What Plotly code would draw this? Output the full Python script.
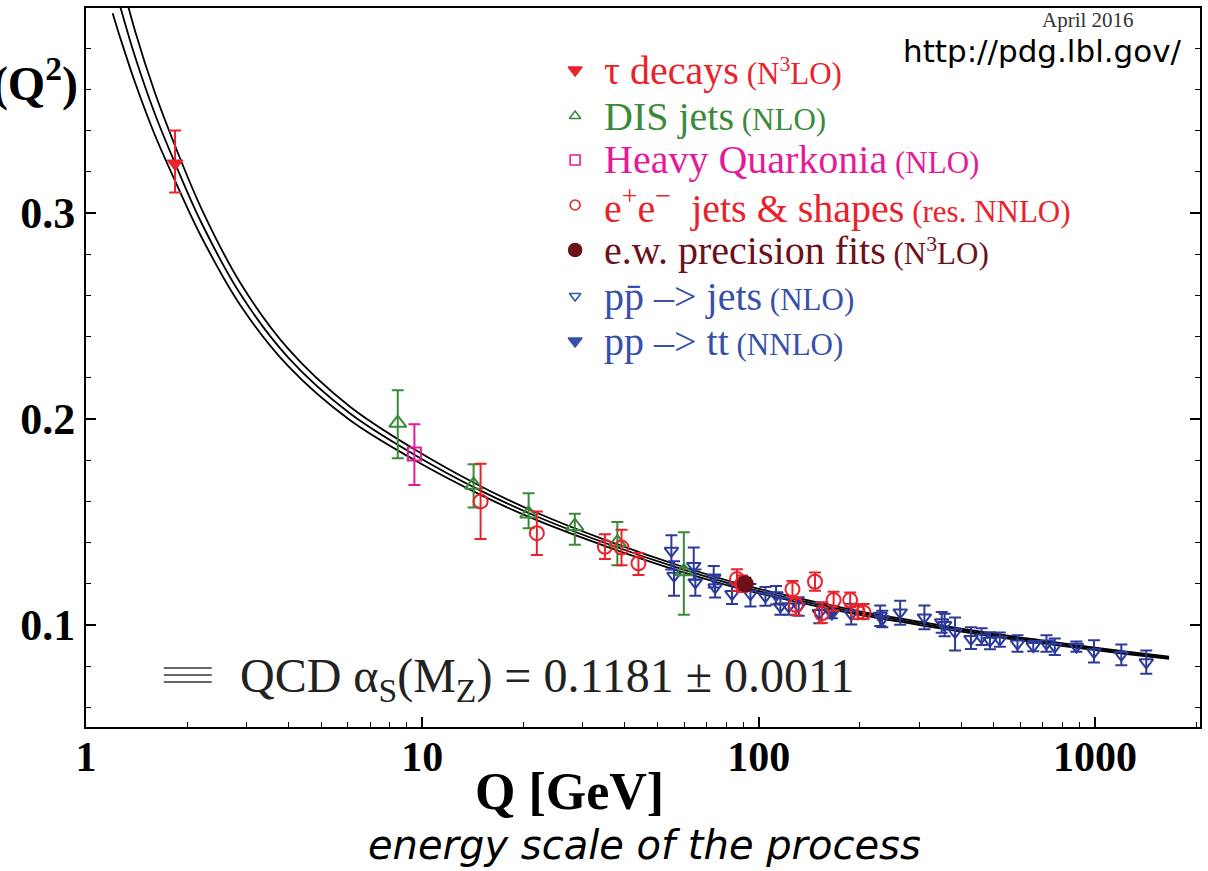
import plotly.graph_objects as go

# ---------------- data ----------------
# QCD running curve (central value and half-width of the band)
curve_q = [1.2, 1.27, 1.4, 1.6, 1.84, 2.2, 2.88, 4.0, 6.07, 9.47, 14.8, 21.8, 35.1, 59.1,
           91.2, 150, 200, 300, 500, 700, 1000, 1300, 1660]
curve_alpha = [0.414, 0.399, 0.3757, 0.3484, 0.3241, 0.2955, 0.2605, 0.2297, 0.2029, 0.1827,
               0.1655, 0.1528, 0.1397, 0.1271, 0.1181, 0.1100, 0.10575, 0.1008, 0.0951,
               0.0918, 0.0884, 0.0861, 0.0841]
curve_halfwidth = [0.017, 0.015, 0.0125, 0.0103, 0.0085, 0.0069, 0.0054, 0.0042, 0.0033,
                   0.0026, 0.0021, 0.0018, 0.0015, 0.0013, 0.0011, 0.00095, 0.00088, 0.0008,
                   0.0007, 0.00067, 0.00062, 0.0006, 0.00057]

tau_q = [1.84]
tau_a = [0.324]
tau_up = [0.016]
tau_dn = [0.014]

dis_q = [8.45, 14.2, 20.7, 28.4, 38.0, 59.9]
dis_a = [0.198, 0.168, 0.154, 0.148, 0.140, 0.126]
dis_up = [0.016, 0.010, 0.010, 0.006, 0.010, 0.019]
dis_dn = [0.017, 0.011, 0.007, 0.009, 0.011, 0.021]

hq_q = [9.47]
hq_a = [0.183]
hq_up = [0.0145]
hq_dn = [0.015]

ee_q = [14.9, 21.9, 34.9, 39.1, 43.9, 86.2, 89.2, 126, 129, 147, 154, 167, 187, 197, 205]
ee_a = [0.160, 0.1446, 0.138, 0.1376, 0.130, 0.1223, 0.120, 0.1174, 0.1097, 0.121, 0.1057,
        0.1121, 0.1121, 0.1061, 0.1061]
ee_up = [0.0183, 0.0105, 0.006, 0.0086, 0.005, 0.0048, 0.004, 0.004, 0.0033, 0.0045, 0.0054,
         0.004, 0.0037, 0.0041, 0.0041]
ee_dn = [0.0183, 0.0106, 0.006, 0.0086, 0.0057, 0.0057, 0.004, 0.0038, 0.0049, 0.0044, 0.0047,
         0.0052, 0.0035, 0.0032, 0.0032]

ew_q = [91.2]
ew_a = [0.1200]
ew_err = [0.003]

ppjet_q = [55.0, 56.0, 64.1, 64.8, 73.5, 74.2, 83.3, 94.5, 104.7, 112.6, 116, 122.8, 131.5,
           151.4, 188.4, 229.7, 233, 263.4, 310.9, 350, 357, 383.5, 427.7, 459.8, 487, 521,
           588, 655, 717, 759, 880, 993, 1197, 1420]
ppjet_a = [0.136, 0.1239, 0.1287, 0.1207, 0.1231, 0.1183, 0.1150, 0.1150, 0.1139, 0.1145,
           0.1090, 0.1090, 0.1090, 0.1058, 0.1053, 0.1045, 0.1029, 0.1061, 0.1037, 0.1013,
           0.1000, 0.0965, 0.0932, 0.0940, 0.0924, 0.0929, 0.0910, 0.0898, 0.0910, 0.0895,
           0.0895, 0.0868, 0.0855, 0.0819]
ppjet_up = [0.0076, 0.007, 0.0089, 0.0063, 0.0056, 0.0057, 0.0049, 0.0049, 0.0045, 0.0045,
            0.004, 0.004, 0.0045, 0.005, 0.005, 0.005, 0.004, 0.0057, 0.0058, 0.005, 0.0055,
            0.0072, 0.0057, 0.0044, 0.0041, 0.0035, 0.0040, 0.0025, 0.0040, 0.0040, 0.0025,
            0.0058, 0.0050, 0.0057]
ppjet_dn = [0.009, 0.0097, 0.0067, 0.0065, 0.0049, 0.0049, 0.0048, 0.006, 0.0045, 0.0045,
            0.004, 0.004, 0.0045, 0.005, 0.005, 0.005, 0.004, 0.006, 0.0058, 0.005, 0.0055,
            0.0089, 0.0048, 0.0037, 0.0041, 0.0035, 0.0040, 0.0025, 0.0040, 0.0040, 0.0025,
            0.0050, 0.0050, 0.0055]

pptt_q = [165]
pptt_a = [0.1053]
pptt_err = [0.002]

x_tickvals = [1, 10, 100, 1000]
x_ticktext = ["1", "10", "100", "1000"]
x_minor = [2, 3, 4, 5, 6, 7, 8, 9, 20, 30, 40, 50, 60, 70, 80, 90,
           200, 300, 400, 500, 600, 700, 800, 900, 2000]
y_tickvals = [0.1, 0.2, 0.3]
y_ticktext = ["0.1", "0.2", "0.3"]
y_minor = [0.06, 0.08, 0.12, 0.14, 0.16, 0.18, 0.22, 0.24, 0.26, 0.28, 0.32, 0.34, 0.36, 0.38]

legend_labels = [
    ("τ decays", " (N<sup>3</sup>LO)"),
    ("DIS jets", " (NLO)"),
    ("Heavy Quarkonia", " (NLO)"),
    ("e<sup>+</sup>e<sup>−</sup>  jets &amp; shapes", " (res. NNLO)"),
    ("e.w. precision fits", " (N<sup>3</sup>LO)"),
    ("pp̄ –> jets", " (NLO)"),
    ("pp –> tt", " (NNLO)"),
]

# ---------------- styles ----------------
RED = "#e8232c"
GREEN = "#3b8a3b"
MAGENTA = "#e31b9b"
DARKRED = "#6d1119"
BLUE = "#2c3b9a"
LBLUE = "#3850aa"
SERIF = "Liberation Serif"

legend_colors = [RED, GREEN, MAGENTA, RED, DARKRED, LBLUE, LBLUE]
legend_symbols = ["triangle-down", "triangle-up-open", "square-open", "circle-open",
                  "circle", "triangle-down-open", "triangle-down"]
legend_msizes = [12, 10, 10, 10, 13, 10, 12]
legend_rows_px = [70, 116, 160, 205, 250, 296, 341]

W, H = 1208, 871
ML, MR, MT, MB = 86, 6, 8, 144
PW, PH = W - ML - MR, H - MT - MB


def px_x(x):
    return (x - ML) / PW


def px_y(y):
    return (H - MB - y) / PH


fig = go.Figure()

# three curves of the QCD band
for s in (-1, 0, 1):
    fig.add_trace(go.Scatter(
        x=curve_q, y=[a + s * d for a, d in zip(curve_alpha, curve_halfwidth)],
        mode="lines", line=dict(color="black", width=1.8, shape="spline", smoothing=1.0),
        hoverinfo="skip", showlegend=False))


def add_points(q, a, up, dn, color, symbol, size, lw=2):
    fig.add_trace(go.Scatter(
        x=q, y=a, mode="markers",
        marker=dict(symbol=symbol, size=size, color=color,
                    line=dict(color=color, width=lw)),
        error_y=dict(type="data", symmetric=False, array=up, arrayminus=dn,
                     color=color, thickness=2, width=6),
        showlegend=False))


add_points(ppjet_q, ppjet_a, ppjet_up, ppjet_dn, BLUE, "triangle-down-open", 12)
add_points(pptt_q, pptt_a, pptt_err, pptt_err, BLUE, "triangle-down", 13, 1)
add_points(dis_q, dis_a, dis_up, dis_dn, GREEN, "triangle-up-open", 15)
add_points(hq_q, hq_a, hq_up, hq_dn, MAGENTA, "square-open", 13)
add_points(ee_q, ee_a, ee_up, ee_dn, RED, "circle-open", 14)
add_points(ew_q, ew_a, ew_err, ew_err, DARKRED, "circle", 16, 1)
add_points(tau_q, tau_a, tau_up, tau_dn, RED, "triangle-down", 14, 1)

# legend markers on an overlay axis covering the plot area
legend_x = px_x(576)
for sym, col, ms, ypx in zip(legend_symbols, legend_colors, legend_msizes, legend_rows_px):
    fig.add_trace(go.Scatter(
        x=[legend_x], y=[px_y(ypx)], xaxis="x2", yaxis="y2", mode="markers",
        marker=dict(symbol=sym, size=ms, color=col, line=dict(color=col, width=1.6)),
        hoverinfo="skip", showlegend=False))

annotations = []
for (main, sub), col, ypx in zip(legend_labels, legend_colors, legend_rows_px):
    annotations.append(dict(
        x=px_x(603), y=px_y(ypx), xref="paper", yref="paper", xanchor="left",
        yanchor="middle", showarrow=False,
        text=f"{main}<span style='font-size:31px'>{sub}</span>",
        font=dict(family=SERIF, size=40, color=col)))

annotations += [
    dict(x=px_x(80), y=px_y(84), xref="paper", yref="paper", xanchor="right",
         yanchor="middle", showarrow=False, text="α<sub>s</sub>(Q<sup>2</sup>)",
         font=dict(family=SERIF, size=48, color="black", weight="bold")),
    dict(x=px_x(570), y=px_y(791), xref="paper", yref="paper", xanchor="center",
         yanchor="middle", showarrow=False, text="Q [GeV]",
         font=dict(family=SERIF, size=52, color="black", weight="bold")),
    dict(x=px_x(646), y=px_y(845), xref="paper", yref="paper", xanchor="center",
         yanchor="middle", showarrow=False, text="energy scale of the process",
         font=dict(family="DejaVu Sans", size=40, color="black", style="italic")),
    dict(x=px_x(1090), y=px_y(20), xref="paper", yref="paper", xanchor="center",
         yanchor="middle", showarrow=False, text="April 2016",
         font=dict(family=SERIF, size=21, color="#333333")),
    dict(x=px_x(1186), y=px_y(51), xref="paper", yref="paper", xanchor="right",
         yanchor="middle", showarrow=False, text="http://pdg.lbl.gov/",
         font=dict(family="DejaVu Sans", size=31, color="black")),
    dict(x=px_x(238), y=px_y(679), xref="paper", yref="paper", xanchor="left",
         yanchor="middle", showarrow=False,
         text="QCD α<sub>S</sub>(M<sub>Z</sub>) = 0.1181 ± 0.0011",
         font=dict(family=SERIF, size=48, color="#222222")),
]

shapes = []
for ypx in (668, 675, 682):
    shapes.append(dict(type="line", xref="paper", yref="paper",
                       x0=px_x(164), x1=px_x(212), y0=px_y(ypx), y1=px_y(ypx),
                       line=dict(color="#333333", width=1.5)))

fig.update_layout(
    width=W, height=H,
    margin=dict(l=ML, r=MR, t=MT, b=MB, pad=0),
    paper_bgcolor="white", plot_bgcolor="white",
    showlegend=False,
    annotations=annotations,
    shapes=shapes,
    xaxis=dict(
        type="log", range=[0, 3.312], showgrid=False, zeroline=False,
        showline=True, linecolor="black", linewidth=2, mirror=True,
        ticks="inside", ticklen=10, tickwidth=1.5, tickcolor="black",
        tickvals=x_tickvals, ticktext=x_ticktext,
        tickfont=dict(family=SERIF, size=42, color="black", weight="bold"),
        ticklabelstandoff=-8,
        minor=dict(ticks="inside", ticklen=5, tickwidth=1.2, tickcolor="black",
                   tickvals=x_minor, showgrid=False),
    ),
    yaxis=dict(
        range=[0.0505, 0.3995], showgrid=False, zeroline=False,
        showline=True, linecolor="black", linewidth=2, mirror="ticks",
        ticks="inside", ticklen=10, tickwidth=1.5, tickcolor="black",
        tickvals=y_tickvals, ticktext=y_ticktext,
        tickfont=dict(family=SERIF, size=44, color="black", weight="bold"),
        ticklabelstandoff=0,
        minor=dict(ticks="inside", ticklen=5, tickwidth=1.2, tickcolor="black",
                   tickvals=y_minor, showgrid=False),
    ),
    xaxis2=dict(overlaying="x", range=[0, 1], visible=False, anchor="y2"),
    yaxis2=dict(overlaying="y", range=[0, 1], visible=False, anchor="x2"),
)

fig.write_html("out.html")
